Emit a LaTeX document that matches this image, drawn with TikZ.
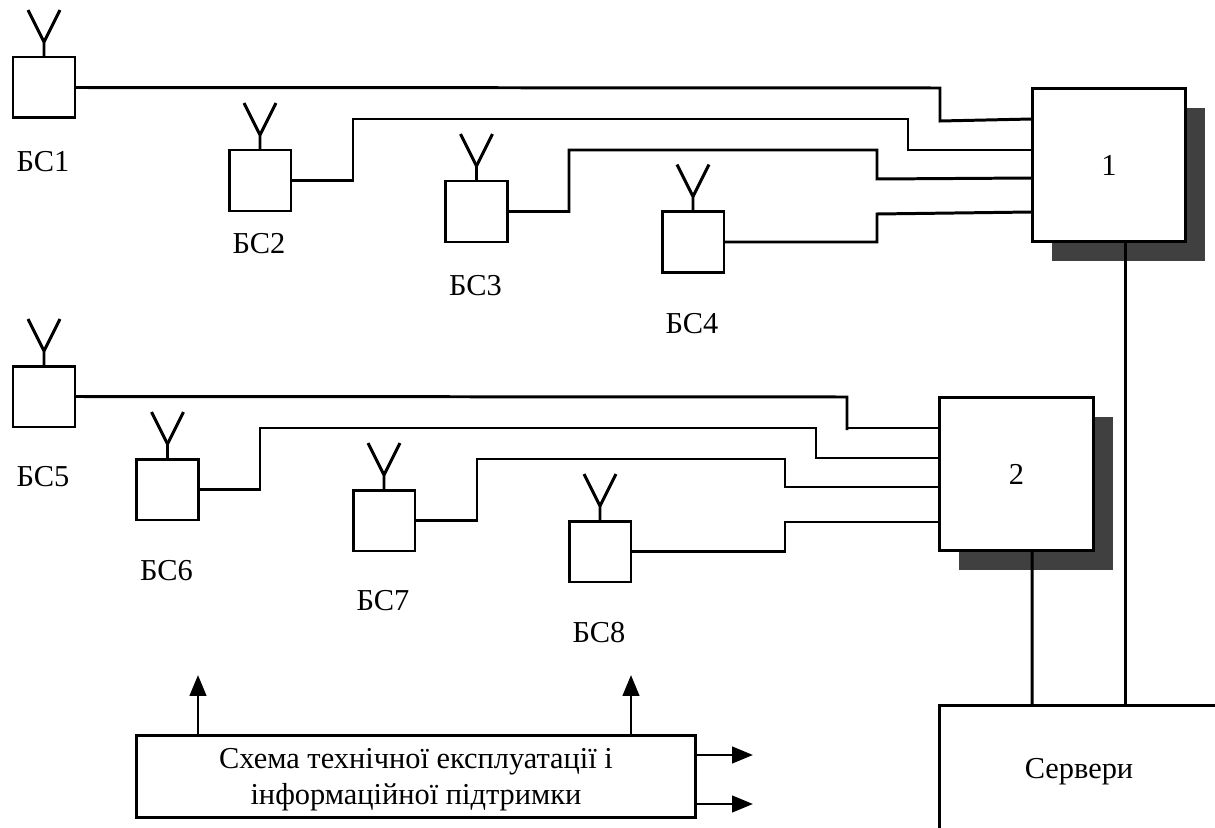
\documentclass[tikz,border=0pt]{standalone}
\usepackage{fontspec}
\setmainfont{Liberation Serif}
\usetikzlibrary{arrows.meta, calc, shadows}
\tikzset{
    bts/.style={draw, line width=1.7pt, minimum width=1.24cm, minimum height=1.22cm, outer sep=0pt},
    ant/.style={line width=1.7pt, line join=miter},
    hub/.style={draw, line width=1.7pt, fill=white, minimum size=3.08cm, outer sep=0pt, font=\fontsize{17.3}{20}\selectfont,
        drop shadow={shadow xshift=0.39cm, shadow yshift=-0.39cm, fill=black!75, opacity=1}},
    link/.style={line width=1.7pt, line join=miter},
    lbl/.style={font=\fontsize{17.3}{20}\selectfont, inner sep=0pt},
    blk/.style={draw, line width=1.7pt, outer sep=0pt, align=center, font=\fontsize{17.3}{20.5}\selectfont},
    arr/.style={line width=1.7pt, -{Triangle[length=0.42cm, width=0.33cm]}},
}
\begin{document}
\begin{tikzpicture}[x=0.02cm, y=-0.02cm]
        \useasboundingbox (0,0) rectangle (1215,828);

        % Base stations
        \foreach \n/\x/\y/\ly in {1/44/87.5/162, 2/260/180.5/244, 3/476.5/211.5/286, 4/693/242/324,
                                  5/44/396.5/477, 6/167.5/489.5/571, 7/384/520.5/601, 8/600/551.5/633} {
            \node[bts] (bs\n) at (\x,\y) {};
            \node[lbl] (bsl\n) at (\x-1,\ly) {БС\n};
            \draw[ant] (bs\n.north) -- ++(0,-15) -- ++(-16,-32);
            \draw[ant] (bs\n.north) ++(0,-15) -- ++(16,-32);
        }

        % Hubs
        \node[hub] (hub1) at (1109,165) {1};
        \node[hub] (hub2) at (1016.5,474) {2};

        % Lower blocks
        \node[blk, minimum width=5.6cm, minimum height=2.54cm] (srv) at (1079,768.5) {\rule{0pt}{15pt}Сервери};
        \node[blk, minimum width=11.2cm, minimum height=1.62cm] (tech) at (416,776.5)
            {\rule{0pt}{15.5pt}Схема технічної експлуатації і\\інформаційної підтримки};

        % First group
        \draw[link] (bs1.east) -- (940,88) -- (940,121) -- ($(hub1.west)+(0,-46)$);
        \draw[link] (bs2.east) -| (353,119) -- (908,119) |- ($(hub1.west)+(0,-15)$);
        \draw[link] (bs3.east) -| (569,150) -- (877,150) -- (877,179) -- ($(hub1.west)+(0,13)$);
        \draw[link] (bs4.east) -- (877,242) -- (877,214) -- ($(hub1.west)+(0,47)$);

        % Second group
        \draw[link] (bs5.east) -- (847,397) -- (847,430);
        \draw[link] (847,428) -- ($(hub2.west)+(0,-46)$);
        \draw[link] (bs6.east) -| (260,428) -- (816,428) |- ($(hub2.west)+(0,-16)$);
        \draw[link] (bs7.east) -| (477,459) -- (785,459) |- ($(hub2.west)+(0,13)$);
        \draw[link] (bs8.east) -| (785,522) -- ($(hub2.west)+(0,48)$);

        % To the servers
        \draw[link] ($(hub1.south)+(16,0)$) -- ($(srv.north)+(46,0)$);
        \draw[link] ($(hub2.south)+(15.5,0)$) -- ($(srv.north)+(-47,0)$);

        % Outputs
        \coordinate (up1) at (198,675);
        \coordinate (up2) at (631,675);
        \coordinate (out1) at (753,755);
        \coordinate (out2) at (753,804);
        \draw[arr] (tech.north -| up1) -- (up1);
        \draw[arr] (tech.north -| up2) -- (up2);
        \draw[arr] (tech.east |- out1) -- (out1);
        \draw[arr] (tech.east |- out2) -- (out2);
    \end{tikzpicture}
\end{document}
